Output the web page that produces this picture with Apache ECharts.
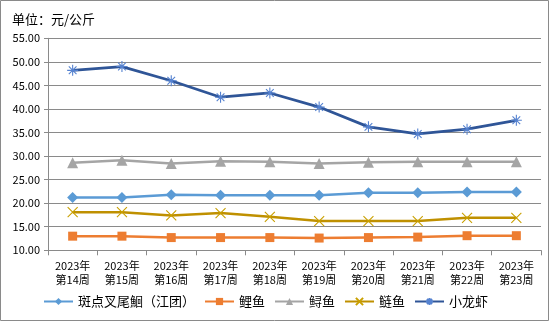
<!DOCTYPE html>
<html>
<head>
<meta charset="utf-8">
<script src="https://cdn.jsdelivr.net/npm/echarts@6/dist/echarts.min.js"></script>
<style>html,body{margin:0;padding:0;background:#fff}#c{width:550px;height:322px}</style>
</head>
<body>
<div id="c"></div>
<script>
var categories = ['2023年\n第14周','2023年\n第15周','2023年\n第16周','2023年\n第17周','2023年\n第18周','2023年\n第19周','2023年\n第20周','2023年\n第21周','2023年\n第22周','2023年\n第23周'];
var seriesNames = ['斑点叉尾鮰（江团）','鲤鱼','鲟鱼','鲢鱼','小龙虾'];
var catfish = [21.2, 21.2, 21.8, 21.7, 21.7, 21.7, 22.2, 22.2, 22.4, 22.4];
var carp = [13.0, 13.0, 12.7, 12.7, 12.7, 12.6, 12.7, 12.8, 13.1, 13.1];
var sturgeon = [28.6, 29.1, 28.4, 28.9, 28.8, 28.4, 28.7, 28.8, 28.8, 28.8];
var silverCarp = [18.1, 18.1, 17.4, 17.9, 17.1, 16.2, 16.2, 16.2, 16.9, 16.9];
var crayfish = [48.2, 49.0, 46.0, 42.5, 43.4, 40.4, 36.2, 34.7, 35.7, 37.6];
var yTicks = {min: 10, max: 55, interval: 5};

var font = '"Noto Sans CJK SC", "Noto Sans", sans-serif';
var gridColor = '#8a8a8a';
var chart = echarts.init(document.getElementById('c'), null, {renderer: 'canvas'});

function mk(name, data, lineColor, markColor, symbol, size, lw, hollowStroke) {
  var s = {
    name: name, type: 'line', data: data, symbol: symbol, symbolSize: size,
    showAllSymbol: true,
    lineStyle: {color: lineColor, width: lw},
    itemStyle: {color: markColor},
    emphasis: {disabled: true},
    z: 3
  };
  if (hollowStroke) {
    s.itemStyle = {color: 'rgba(0,0,0,0)', borderColor: markColor, borderWidth: 1.1};
  }
  return s;
}

chart.setOption({
  animation: false,
  textStyle: {fontFamily: font},
  title: {
    text: '单位：元/公斤', left: 7, top: 8,
    textStyle: {fontFamily: font, fontSize: 13, fontWeight: 'normal', color: '#000'}
  },
  graphic: [{
    type: 'rect', shape: {x: 0.5, y: 0.5, width: 548, height: 320},
    style: {fill: 'none', stroke: '#8a8a8a', lineWidth: 1}, silent: true, z: -1
  }],
  grid: {left: 48, right: 9, top: 38.3, bottom: 71.7},
  legend: {
    left: 43, top: 295, itemWidth: 29, itemHeight: 9, itemGap: 9, padding: 0,
    textStyle: {fontFamily: font, fontSize: 13, color: '#000'},
    data: seriesNames
  },
  xAxis: {
    type: 'category', data: categories, boundaryGap: true,
    axisLine: {lineStyle: {color: gridColor, width: 1}},
    axisTick: {show: true, length: 5, lineStyle: {color: gridColor}, alignWithLabel: false},
    axisLabel: {interval: 0, fontFamily: font, fontSize: 11, color: '#000', lineHeight: 14, margin: 9}
  },
  yAxis: {
    type: 'value', min: yTicks.min, max: yTicks.max, interval: yTicks.interval,
    axisLine: {show: true, lineStyle: {color: gridColor}},
    axisTick: {show: true, length: 4, lineStyle: {color: gridColor}},
    splitLine: {lineStyle: {color: gridColor, width: 1}},
    axisLabel: {fontFamily: font, fontSize: 11, color: '#000', margin: 8,
      formatter: function (v) { return v.toFixed(2); }}
  },
  series: [
    mk(seriesNames[0], catfish, '#5B9BD5', '#5B9BD5', 'diamond', 11, 2.5),
    mk(seriesNames[1], carp, '#ED7D31', '#ED7D31', 'rect', 9, 2.5),
    mk(seriesNames[2], sturgeon, '#A5A5A5', '#A5A5A5', 'triangle', 11, 2.5),
    mk(seriesNames[3], silverCarp, '#BF9000', '#C9A000', 'path://M0,0L10,10M10,0L0,10', 10, 2.5, true),
    mk(seriesNames[4], crayfish, '#2F5597', '#5582D0', 'path://M0,5L10,5M1.5,1.5L8.5,8.5M8.5,1.5L1.5,8.5M5,0L5,10', 11, 2.75, true)
  ]
});
</script>
</body>
</html>
